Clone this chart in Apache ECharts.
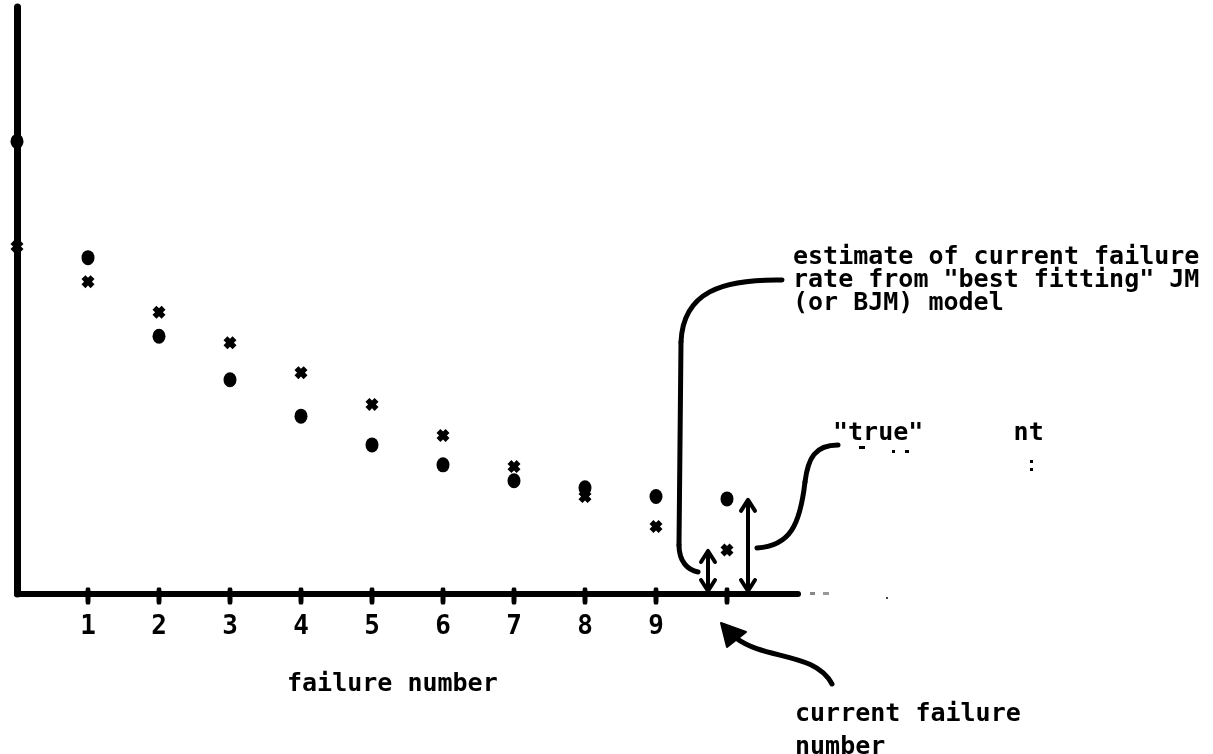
<!DOCTYPE html>
<html>
<head>
<meta charset="utf-8">
<script src="https://cdn.jsdelivr.net/npm/echarts@6/dist/echarts.min.js"></script>
<style>
html,body{margin:0;padding:0;background:#fff;}
#chart{width:1213px;height:754px;}
</style>
</head>
<body>
<div id="chart"></div>
<script>
// failure numbers (0 = on the vertical axis, 10 = current failure)
const failureNumbers = [0, 1, 2, 3, 4, 5, 6, 7, 8, 9, 10];
// "true" failure rate (filled dots)
const trueRate = [7.71, 5.73, 4.39, 3.65, 3.03, 2.54, 2.20, 1.93, 1.81, 1.66, 1.62];
// estimated failure rate from best fitting JM model (crosses)
const estimatedRate = [5.92, 5.32, 4.80, 4.28, 3.77, 3.23, 2.70, 2.17, 1.66, 1.15, 0.75];
// x tick labels (values 1..9)
const tickLabels = ['1', '2', '3', '4', '5', '6', '7', '8', '9'];
const currentFailure = 10;

const FONT = '"DejaVu Sans Mono", "Liberation Mono", monospace';
const crossPath = 'path://M0,3 L3,0 L5,2 L7,0 L10,3 L8,5 L10,7 L7,10 L5,8 L3,10 L0,7 L2,5 Z';

function arrowRenderer(dx) {
  return function (params, api) {
    const top = api.coord([api.value(0), api.value(1)]);
    const base = api.coord([api.value(0), 0]);
    const x = top[0] + dx;
    const y1 = top[1] + 1;
    const y2 = base[1] - 3;
    const hw = 7, hh = 11;
    const st = { stroke: '#000', lineWidth: 4, fill: null, lineCap: 'round', lineJoin: 'round' };
    return {
      type: 'group',
      children: [
        { type: 'line', shape: { x1: x, y1: y1 + 2, x2: x, y2: y2 - 2 }, style: st },
        { type: 'polyline', shape: { points: [[x - hw, y1 + hh], [x, y1], [x + hw, y1 + hh]] }, style: st },
        { type: 'polyline', shape: { points: [[x - hw, y2 - hh], [x, y2], [x + hw, y2 - hh]] }, style: st }
      ]
    };
  };
}

const chart = echarts.init(document.getElementById('chart'), null, { renderer: 'canvas' });
const curve = { stroke: '#000', lineWidth: 5, fill: null, lineCap: 'round' };
chart.setOption({
  backgroundColor: '#fff',
  animation: false,
  grid: { left: 17, right: 415, top: 7, bottom: 160, containLabel: false },
  xAxis: {
    type: 'value', min: 0, max: 11, interval: 1,
    axisLine: { show: true, onZero: false, lineStyle: { color: '#000', width: 6, cap: 'round' } },
    axisTick: { show: false },
    splitLine: { show: false },
    axisLabel: {
      show: true, margin: 20, color: '#000',
      fontFamily: FONT, fontWeight: 'bold', fontSize: 26,
      formatter: function (v) { return (v >= 1 && v <= 9) ? tickLabels[v - 1] : ''; }
    }
  },
  yAxis: {
    type: 'value', min: 0, max: 10,
    axisLine: { show: true, onZero: false, lineStyle: { color: '#000', width: 7, cap: 'round' } },
    axisTick: { show: false },
    splitLine: { show: false },
    axisLabel: { show: false }
  },
  series: [
    {
      name: 'ticks', type: 'scatter', z: 3,
      data: failureNumbers.slice(1).map(function (n) { return [n, 0]; }),
      symbol: 'roundRect', symbolSize: [5, 17], symbolOffset: [0, 2],
      itemStyle: { color: '#000', opacity: 1 }, silent: true
    },
    {
      name: 'true rate', type: 'scatter', z: 4,
      data: failureNumbers.map(function (n, i) { return [n, trueRate[i]]; }),
      symbol: 'circle', symbolSize: [13, 15],
      itemStyle: { color: '#000', opacity: 1 }
    },
    {
      name: 'estimated rate', type: 'scatter', z: 4,
      data: failureNumbers.map(function (n, i) { return [n, estimatedRate[i]]; }),
      symbol: crossPath, symbolSize: 13,
      itemStyle: { color: '#000', opacity: 1 }
    },
    {
      name: 'estimate arrow', type: 'custom', z: 5,
      data: [[currentFailure, estimatedRate[estimatedRate.length - 1]]],
      renderItem: arrowRenderer(-19)
    },
    {
      name: 'true arrow', type: 'custom', z: 5,
      data: [[currentFailure, trueRate[trueRate.length - 1]]],
      renderItem: arrowRenderer(21)
    }
  ],
  graphic: [
    // leader for estimate text
    { type: 'bezierCurve', shape: { x1: 782, y1: 280, cpx1: 722, cpy1: 279, cpx2: 683, cpy2: 292, x2: 681, y2: 342 }, style: curve },
    { type: 'line', shape: { x1: 681, y1: 342, x2: 679, y2: 545 }, style: curve },
    { type: 'bezierCurve', shape: { x1: 679, y1: 545, cpx1: 679, cpy1: 562, cpx2: 688, cpy2: 570, x2: 698, y2: 572 }, style: curve },
    // leader for "true" text
    { type: 'bezierCurve', shape: { x1: 838, y1: 445, cpx1: 815, cpy1: 445, cpx2: 808, cpy2: 458, x2: 805, y2: 482 }, style: curve },
    { type: 'bezierCurve', shape: { x1: 805, y1: 482, cpx1: 800, cpy1: 525, cpx2: 790, cpy2: 546, x2: 757, y2: 548 }, style: curve },
    // arrow to current failure number
    { type: 'bezierCurve', shape: { x1: 736, y1: 638, cpx1: 765, cpy1: 660, cpx2: 815, cpy2: 652, x2: 832, y2: 684 }, style: curve },
    { type: 'polygon', shape: { points: [[721, 623], [746, 632], [727, 647]] }, style: { fill: '#000', stroke: '#000', lineWidth: 2, lineJoin: 'round' } },
    // texts
    { type: 'text', x: 793, y: 246, style: { text: 'estimate of current failure\nrate from "best fitting" JM\n(or BJM) model', font: 'bold 25px ' + FONT, lineHeight: 23, fill: '#000', verticalAlign: 'top' } },
    { type: 'text', x: 833, y: 433, style: { text: '"true"      nt', font: 'bold 25px ' + FONT, fill: '#000', verticalAlign: 'middle' } },
    { type: 'text', x: 287, y: 684, style: { text: 'failure number', font: 'bold 25px ' + FONT, fill: '#000', verticalAlign: 'middle' } },
    { type: 'text', x: 795, y: 698, style: { text: 'current failure\nnumber', font: 'bold 25px ' + FONT, lineHeight: 33, fill: '#000', verticalAlign: 'top' } },
    // scan specks / fragments
    { type: 'rect', shape: { x: 859, y: 446, width: 6, height: 3 }, style: { fill: '#000' } },
    { type: 'rect', shape: { x: 892, y: 450, width: 3, height: 3 }, style: { fill: '#000' } },
    { type: 'rect', shape: { x: 905, y: 450, width: 4, height: 3 }, style: { fill: '#000' } },
    { type: 'rect', shape: { x: 1030, y: 460, width: 3, height: 3 }, style: { fill: '#000' } },
    { type: 'rect', shape: { x: 1030, y: 468, width: 3, height: 3 }, style: { fill: '#000' } },
    { type: 'rect', shape: { x: 810, y: 592, width: 5, height: 3 }, style: { fill: '#888' } },
    { type: 'rect', shape: { x: 823, y: 592, width: 6, height: 3 }, style: { fill: '#999' } },
    { type: 'rect', shape: { x: 886, y: 597, width: 2, height: 2 }, style: { fill: '#444' } }
  ]
});
</script>
</body>
</html>
